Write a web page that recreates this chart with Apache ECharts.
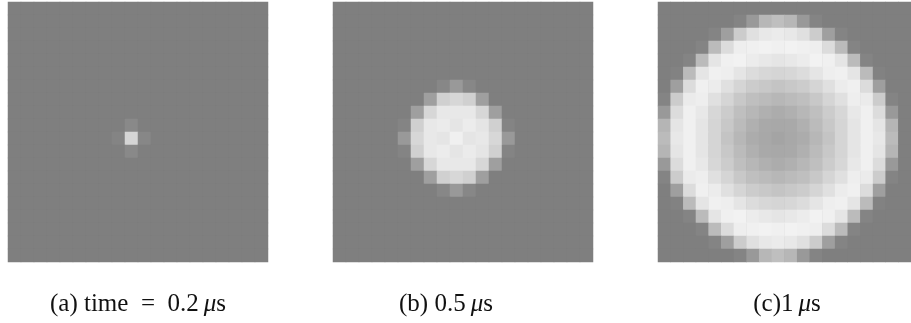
<!DOCTYPE html>
<html>
<head>
<meta charset="utf-8">
<script src="https://cdn.jsdelivr.net/npm/echarts@6/dist/echarts.min.js"></script>
<style>
  html, body { margin: 0; padding: 0; background: #ffffff; }
  #chart { width: 911px; height: 323px; }
</style>
</head>
<body>
<div id="chart"></div>
<script>
// Grid cell indices (columns left to right, rows top to bottom)
const cellIndex = ['0','1','2','3','4','5','6','7','8','9','10','11','12','13','14','15','16','17','18','19'];

// Normalised field amplitude per cell, 0 = background, 1 = white
const fieldA = [
  [0,0,0,0,0,0,0,0,0,0,0,0,0,0,0,0,0,0,0,0],
  [0,0,0,0,0,0,0,0,0,0,0,0,0,0,0,0,0,0,0,0],
  [0,0,0,0,0,0,0,0,0,0,0,0,0,0,0,0,0,0,0,0],
  [0,0,0,0,0,0,0,0,0,0,0,0,0,0,0,0,0,0,0,0],
  [0,0,0,0,0,0,0,0,0,0,0,0,0,0,0,0,0,0,0,0],
  [0,0,0,0,0,0,0,0,0,0,0,0,0,0,0,0,0,0,0,0],
  [0,0,0,0,0,0,0,0,0,0,0,0,0,0,0,0,0,0,0,0],
  [0,0,0,0,0,0,0,0,0,0,0,0,0,0,0,0,0,0,0,0],
  [0,0,0,0,0,0,0,0,0,0,0,0,0,0,0,0,0,0,0,0],
  [0,0,0,0,0,0,0,0,0,.08,0,0,0,0,0,0,0,0,0,0],
  [0,0,0,0,0,0,0,0,.04,.67,.06,0,0,0,0,0,0,0,0,0],
  [0,0,0,0,0,0,0,0,0,.08,0,0,0,0,0,0,0,0,0,0],
  [0,0,0,0,0,0,0,0,0,0,0,0,0,0,0,0,0,0,0,0],
  [0,0,0,0,0,0,0,0,0,0,0,0,0,0,0,0,0,0,0,0],
  [0,0,0,0,0,0,0,0,0,0,0,0,0,0,0,0,0,0,0,0],
  [0,0,0,0,0,0,0,0,0,0,0,0,0,0,0,0,0,0,0,0],
  [0,0,0,0,0,0,0,0,0,0,0,0,0,0,0,0,0,0,0,0],
  [0,0,0,0,0,0,0,0,0,0,0,0,0,0,0,0,0,0,0,0],
  [0,0,0,0,0,0,0,0,0,0,0,0,0,0,0,0,0,0,0,0],
  [0,0,0,0,0,0,0,0,0,0,0,0,0,0,0,0,0,0,0,0]
];

const fieldB = [
  [0,0,0,0,0,0,0,0,0,0,0,0,0,0,0,0,0,0,0,0],
  [0,0,0,0,0,0,0,0,0,0,0,0,0,0,0,0,0,0,0,0],
  [0,0,0,0,0,0,0,0,0,0,0,0,0,0,0,0,0,0,0,0],
  [0,0,0,0,0,0,0,0,0,0,0,0,0,0,0,0,0,0,0,0],
  [0,0,0,0,0,0,0,0,0,0,0,0,0,0,0,0,0,0,0,0],
  [0,0,0,0,0,0,0,0,0,0,0,0,0,0,0,0,0,0,0,0],
  [0,0,0,0,0,0,0,0,.06,.2,.06,0,0,0,0,0,0,0,0,0],
  [0,0,0,0,0,0,0,.25,.63,.69,.63,.25,0,0,0,0,0,0,0,0],
  [0,0,0,0,0,0,.25,.69,.82,.82,.82,.69,.25,0,0,0,0,0,0,0],
  [0,0,0,0,0,.04,.63,.82,.84,.8,.85,.8,.63,.04,0,0,0,0,0,0],
  [0,0,0,0,0,.2,.69,.82,.8,.88,.8,.82,.69,.2,0,0,0,0,0,0],
  [0,0,0,0,0,.04,.63,.82,.85,.8,.84,.8,.63,.04,0,0,0,0,0,0],
  [0,0,0,0,0,0,.25,.69,.82,.82,.82,.69,.25,0,0,0,0,0,0,0],
  [0,0,0,0,0,0,0,.25,.63,.69,.63,.25,0,0,0,0,0,0,0,0],
  [0,0,0,0,0,0,0,0,.06,.2,.06,0,0,0,0,0,0,0,0,0],
  [0,0,0,0,0,0,0,0,0,0,0,0,0,0,0,0,0,0,0,0],
  [0,0,0,0,0,0,0,0,0,0,0,0,0,0,0,0,0,0,0,0],
  [0,0,0,0,0,0,0,0,0,0,0,0,0,0,0,0,0,0,0,0],
  [0,0,0,0,0,0,0,0,0,0,0,0,0,0,0,0,0,0,0,0],
  [0,0,0,0,0,0,0,0,0,0,0,0,0,0,0,0,0,0,0,0]
];

const fieldC = [
  [0,0,0,0,0,0,0,0,0,0,0,0,0,0,0,0,0,0,0,0],
  [0,0,0,0,0,0,.04,.2,.44,.5,.44,.2,.04,0,0,0,0,0,0,0],
  [0,0,0,0,.04,.25,.6,.76,.82,.84,.82,.76,.6,.25,.04,0,0,0,0,0],
  [0,0,0,.04,.47,.73,.87,.88,.9,.88,.9,.88,.87,.73,.47,.04,0,0,0,0],
  [0,0,.04,.47,.8,.88,.9,.85,.82,.8,.82,.85,.9,.88,.8,.47,.04,0,0,0],
  [0,.02,.47,.8,.88,.87,.8,.73,.69,.67,.69,.73,.8,.87,.88,.8,.47,.02,0,0],
  [0,.25,.73,.88,.85,.76,.67,.6,.57,.54,.57,.6,.67,.76,.85,.88,.73,.25,0,0],
  [.04,.6,.84,.87,.76,.67,.57,.5,.47,.44,.47,.5,.57,.67,.76,.87,.84,.6,.04,0],
  [.2,.73,.88,.82,.69,.6,.5,.44,.38,.35,.38,.44,.5,.6,.69,.82,.88,.73,.2,0],
  [.42,.8,.88,.8,.67,.57,.47,.38,.33,.32,.33,.38,.47,.57,.67,.8,.88,.8,.42,0],
  [.47,.82,.88,.8,.67,.54,.44,.35,.32,.29,.32,.35,.44,.54,.67,.8,.88,.82,.47,0],
  [.42,.8,.88,.8,.67,.57,.47,.38,.33,.32,.33,.38,.47,.57,.67,.8,.88,.8,.42,0],
  [.2,.73,.88,.82,.69,.6,.5,.44,.38,.35,.38,.44,.5,.6,.69,.82,.88,.73,.2,0],
  [.04,.6,.84,.87,.76,.67,.57,.5,.47,.44,.47,.5,.57,.67,.76,.87,.84,.6,.04,0],
  [0,.25,.73,.88,.85,.76,.67,.6,.57,.54,.57,.6,.67,.76,.85,.88,.73,.25,0,0],
  [0,.02,.47,.8,.88,.87,.8,.73,.69,.67,.69,.73,.8,.87,.88,.8,.47,.02,0,0],
  [0,0,.04,.47,.8,.88,.9,.85,.82,.8,.82,.85,.9,.88,.8,.47,.04,0,0,0],
  [0,0,0,.04,.47,.73,.87,.88,.9,.88,.9,.88,.87,.73,.47,.04,0,0,0,0],
  [0,0,0,0,.04,.25,.6,.76,.82,.84,.82,.76,.6,.25,.04,0,0,0,0,0],
  [0,0,0,0,0,0,.04,.2,.44,.5,.44,.2,.04,0,0,0,0,0,0,0]
];

// Panel captions: text before the micro sign, then the unit
const captions = [
  { label: '(a) time  =  0.2\u2009', unit: 's' },
  { label: '(b) 0.5\u2009', unit: 's' },
  { label: '(c)1\u2009', unit: 's' }
];

function toCells(field) {
  const out = [];
  field.forEach((row, r) => row.forEach((v, c) => out.push([c, r, v])));
  return out;
}

const panelLeft = [8, 333, 658];
const captionX = [138, 446, 787];
const fields = [fieldA, fieldB, fieldC];
const fieldBackground = '#7f7f7f';

const chart = echarts.init(document.getElementById('chart'), null, { renderer: 'canvas' });

chart.setOption({
  animation: false,
  backgroundColor: '#ffffff',
  // 13 px per cell keeps cell edges on whole pixels
  grid: panelLeft.map(l => ({
    left: l, top: 2, width: 260, height: 260,
    show: true, backgroundColor: fieldBackground, borderWidth: 0
  })),
  xAxis: panelLeft.map((l, i) => ({ type: 'category', gridIndex: i, data: cellIndex, show: false })),
  yAxis: panelLeft.map((l, i) => ({ type: 'category', gridIndex: i, data: cellIndex, inverse: true, show: false })),
  visualMap: {
    show: false,
    type: 'continuous',
    min: 0,
    max: 1,
    seriesIndex: [0, 1, 2],
    inRange: { color: [fieldBackground, '#ffffff'] }
  },
  series: fields.map((f, i) => ({
    type: 'heatmap',
    xAxisIndex: i,
    yAxisIndex: i,
    data: toCells(f),
    itemStyle: { borderWidth: 0 },
    emphasis: { disabled: true }
  })),
  graphic: captions.map((cap, i) => ({
    type: 'text',
    x: captionX[i],
    y: 304,
    style: {
      text: cap.label + '{mu|\u03bc}' + cap.unit,
      fontFamily: 'Liberation Serif',
      fontSize: 25,
      fill: '#111111',
      align: 'center',
      verticalAlign: 'middle',
      rich: {
        mu: { fontFamily: 'Liberation Serif', fontStyle: 'italic', fontSize: 25, fill: '#111111' }
      }
    }
  }))
});
</script>
</body>
</html>
